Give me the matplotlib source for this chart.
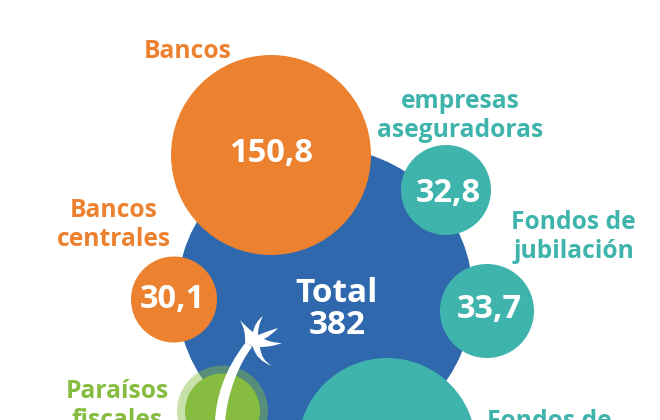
import matplotlib.pyplot as plt
from matplotlib.patches import Circle, PathPatch
from matplotlib.path import Path

plt.rcParams['font.family'] = ['Open Sans', 'DejaVu Sans']

# valores
categorias = ["Bancos", "empresas\naseguradoras", "Fondos de\njubilación", "Bancos\ncentrales",
              "Paraísos\nfiscales", "Fondos de"]
valores = ["150,8", "32,8", "33,7", "30,1"]
total = "Total\n382"

naranja = "#EC8130"
verde_azul = "#3FB4AC"
azul = "#2F68AD"
verde = "#86BC40"

# layout in pixels
burbujas = [(271, 155, 100, naranja), (446, 190, 45, verde_azul), (487, 311, 47, verde_azul),
            (174, 299.5, 43, naranja), (222.5, 411, 37.5, verde), (387, 447, 89, verde_azul)]
pos_valores = [(271.5, 154), (448.5, 193), (489.5, 309), (172, 300)]
etiquetas = [(188, 52, naranja), (460.5, 116, verde_azul), (573.5, 237, verde_azul),
             (113.5, 225, naranja), (117, 406, verde), (549, 422, verde_azul)]

fig = plt.figure(figsize=(6.6, 4.2), dpi=100)
ax = fig.add_axes([0, 0, 1, 1])
ax.set_xlim(0, 660)
ax.set_ylim(420, 0)
ax.axis("off")

ax.add_patch(Circle((325, 296), 148, color=azul, lw=0))
ax.add_patch(Circle((222.5, 411), 45.5, color=verde, alpha=0.45, lw=0))

for x, y, r, c in burbujas:
    ax.add_patch(Circle((x, y), r, color=c, lw=0))

for (x, y), val in zip(pos_valores, valores):
    ax.text(x, y, val, color="white", fontsize=23.5, fontweight="bold", ha="center", va="center")

for (x, y, c), cat in zip(etiquetas, categorias):
    ax.text(x, y, cat, color=c, fontsize=17.7, fontweight="bold", ha="center", va="center",
            linespacing=1.17, clip_on=True)

ax.text(337, 309.5, total, color="white", fontsize=24, fontweight="bold", ha="center", va="center",
        linespacing=0.95)

# palmera
tronco = Path([(215, 422), (216, 398), (224, 370), (246, 342), (252, 347), (238, 365), (227, 395), (225, 422), (215, 422)],
              [Path.MOVETO, Path.CURVE4, Path.CURVE4, Path.CURVE4, Path.LINETO, Path.CURVE4, Path.CURVE4, Path.CURVE4, Path.CLOSEPOLY])
ax.add_patch(PathPatch(tronco, fc="white", lw=0))
hojas = Path([(245, 342), (246, 331), (240, 320), (247, 328), (253, 332), (255, 322), (263, 316), (258, 325), (258, 335),
              (268, 331), (278, 328), (272, 335), (264, 339), (272, 343), (282, 343), (272, 347), (260, 347),
              (261, 360), (272, 366), (256, 360), (253, 347), (245, 342)],
             [Path.MOVETO] + [Path.CURVE3] * 20 + [Path.CLOSEPOLY])
ax.add_patch(PathPatch(hojas, fc="white", lw=0))

fig.savefig("out.png", dpi=100)
